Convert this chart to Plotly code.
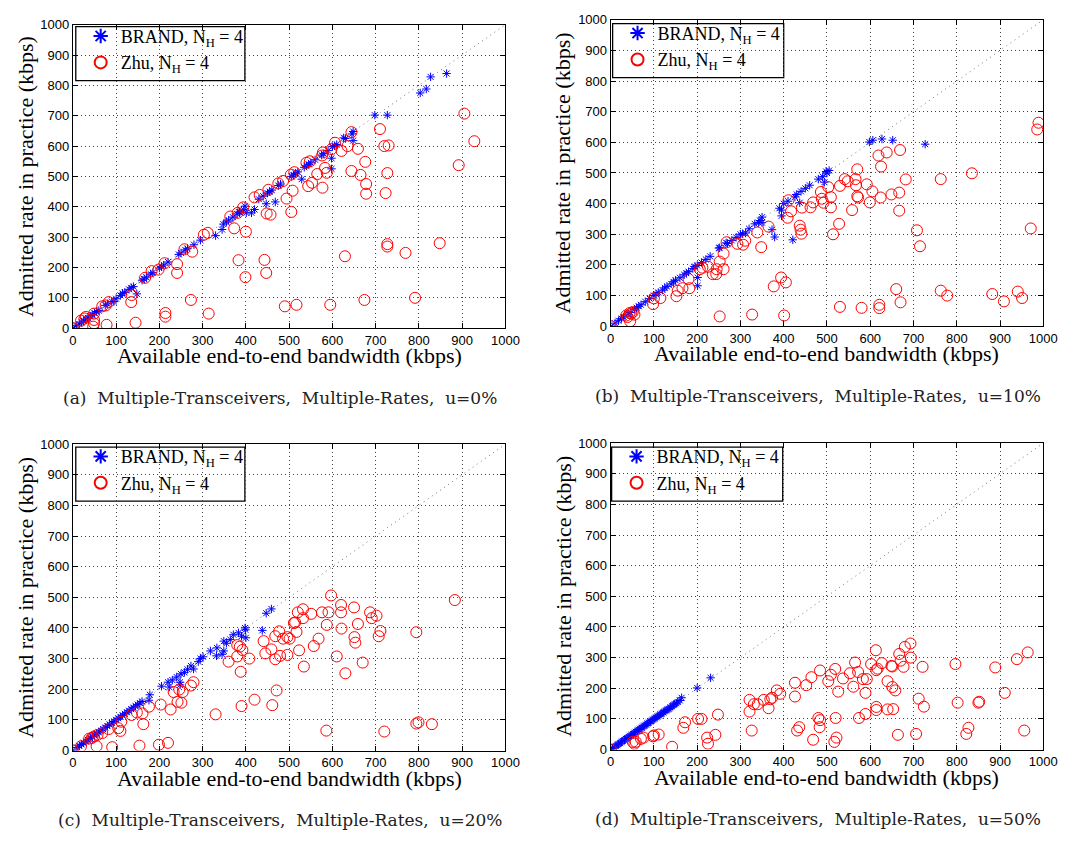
import plotly.graph_objects as go

# ---------------- data ----------------
diag = [0, 1000]
ticks = [0, 100, 200, 300, 400, 500, 600, 700, 800, 900, 1000]

# (a) u = 0%
brand_a_x = [0, 8, 15, 20, 25, 30, 35, 40, 45, 50, 55, 60, 75, 80, 90, 95, 100, 110, 115, 120, 130, 135, 140, 148,
             160, 165, 170, 180, 185, 200, 205, 210, 220, 245, 250, 260, 265, 280, 295, 330, 345, 348, 355, 360, 370,
             380, 385, 395, 398, 386, 401, 420, 413, 430, 440, 447, 450, 455, 460, 468, 475, 480, 505, 510, 515, 520,
             529, 535, 540, 545, 550, 560, 575, 580, 590, 598, 598, 600, 605, 610, 626, 630, 645, 648, 648, 698, 727,
             803, 817, 827, 864]
brand_a_y = [0, 8, 14, 20, 24, 30, 34, 40, 44, 50, 55, 58, 75, 80, 88, 88, 97, 108, 115, 118, 128, 133, 137, 113,
             158, 162, 168, 178, 183, 198, 203, 208, 218, 243, 248, 258, 262, 275, 290, 305, 325, 343, 350, 356, 366,
             376, 382, 390, 402, 383, 380, 391, 380, 425, 435, 410, 445, 450, 455, 416, 470, 475, 500, 505, 510, 515,
             491, 530, 535, 540, 545, 555, 570, 575, 585, 560, 525, 598, 601, 605, 627, 625, 640, 618, 648, 702, 702,
             775, 788, 828, 839]
zhu_a_x = [0, 19, 27, 30, 49, 49, 47, 49, 68, 76, 83, 78, 136, 135, 145, 167, 182, 198, 212, 214, 214, 241, 241, 258,
           276, 273, 303, 312, 314, 364, 373, 381, 394, 400, 383, 399, 420, 432, 443, 447, 448, 457, 452, 475, 486,
           494, 505, 508, 490, 517, 504, 512, 540, 548, 544, 553, 565, 576, 578, 577, 583, 587, 595, 598, 606, 621,
           635, 644, 644, 659, 665, 676, 678, 678, 629, 674, 710, 720, 730, 727, 723, 727, 727, 769, 791, 848, 905,
           928, 892]
zhu_a_y = [0, 25, 32, 37, 48, 27, 5, 16, 72, 75, 86, 11, 109, 86, 18, 166, 188, 193, 214, 50, 38, 211, 182, 260,
           252, 93, 308, 314, 48, 368, 329, 380, 398, 318, 224, 168, 431, 439, 225, 182, 378, 374, 456, 477, 485,
           427, 383, 453, 72, 77, 506, 514, 545, 550, 468, 479, 508, 569, 579, 463, 528, 512, 77, 590, 611, 584,
           600, 646, 518, 591, 505, 548, 475, 443, 237, 93, 656, 600, 602, 511, 445, 277, 269, 248, 100, 280, 707,
           616, 537]

# (b) u = 10%
brand_b_x = [0, 10, 18, 25, 30, 40, 45, 55, 60, 65, 70, 80, 90, 100, 105, 110, 120, 125, 130, 140, 145, 150, 160,
             170, 175, 180, 190, 195, 200, 201, 201, 210, 220, 230, 250, 252, 267, 270, 280, 290, 300, 305, 312, 320,
             333, 342, 345, 350, 350, 373, 379, 390, 395, 395, 400, 410, 421, 426, 430, 437, 440, 450, 460, 480, 490,
             494, 498, 500, 505, 598, 606, 627, 652, 727]
brand_b_y = [0, 10, 18, 25, 30, 40, 45, 55, 60, 65, 70, 80, 90, 100, 105, 110, 118, 125, 130, 138, 145, 150, 158,
             168, 173, 178, 188, 195, 198, 159, 132, 208, 218, 228, 255, 256, 272, 270, 280, 290, 300, 302, 304, 318,
             334, 338, 345, 356, 338, 315, 291, 385, 379, 360, 400, 408, 282, 422, 430, 403, 440, 450, 460, 480, 488,
             470, 505, 500, 508, 601, 607, 611, 607, 594]
zhu_b_x = [0, 36, 44, 47, 55, 45, 39, 51, 98, 100, 115, 152, 155, 166, 180, 182, 206, 212, 225, 236, 244, 245, 252,
           261, 261, 268, 252, 293, 306, 311, 327, 339, 348, 365, 377, 394, 405, 401, 409, 411, 417, 437, 439, 441,
           442, 462, 468, 486, 488, 492, 503, 509, 509, 514, 528, 530, 530, 541, 548, 558, 566, 567, 570, 570, 572,
           580, 592, 599, 605, 619, 625, 624, 621, 621, 638, 649, 667, 667, 669, 660, 670, 682, 708, 715, 763, 835,
           763, 778, 882, 909, 941, 951, 971, 989, 986]
zhu_b_y = [0, 35, 43, 41, 38, 16, 30, 46, 72, 91, 92, 98, 116, 124, 154, 124, 186, 191, 194, 170, 170, 186, 211,
           186, 237, 274, 32, 269, 266, 279, 38, 306, 258, 325, 130, 159, 143, 35, 354, 411, 375, 328, 315, 302,
           387, 388, 404, 438, 416, 403, 454, 421, 388, 300, 334, 458, 63, 480, 473, 379, 480, 460, 512, 424, 420,
           60, 463, 404, 440, 557, 521, 420, 70, 59, 567, 430, 436, 377, 575, 121, 78, 479, 313, 261, 480, 499,
           116, 100, 105, 81, 113, 92, 319, 664, 642]

# (c) u = 20%
brand_c_x = [0, 10, 15, 20, 25, 30, 35, 40, 45, 50, 55, 60, 65, 70, 75, 80, 85, 90, 95, 100, 105, 110, 115, 120, 125,
             130, 135, 140, 145, 150, 155, 160, 176, 178, 205, 220, 223, 230, 240, 248, 248, 250, 258, 265, 273, 279,
             290, 295, 301, 318, 332, 333, 345, 349, 349, 355, 364, 371, 383, 390, 398, 400, 399, 438, 447, 459]
brand_c_y = [0, 10, 15, 20, 25, 30, 35, 40, 45, 50, 55, 60, 65, 70, 75, 80, 85, 90, 95, 100, 105, 110, 115, 120, 125,
             130, 135, 140, 145, 150, 155, 160, 164, 182, 210, 223, 207, 230, 240, 223, 214, 250, 255, 265, 276, 266,
             290, 300, 306, 325, 309, 335, 314, 357, 325, 350, 362, 378, 384, 373, 400, 368, 394, 392, 448, 462]
zhu_c_x = [0, 19, 38, 44, 49, 57, 55, 68, 83, 91, 105, 112, 110, 136, 148, 161, 163, 154, 176, 203, 226, 199, 220,
           242, 251, 233, 246, 254, 273, 279, 330, 360, 380, 380, 386, 392, 408, 388, 390, 420, 441, 445, 459, 468,
           477, 468, 486, 479, 496, 501, 496, 471, 461, 511, 514, 517, 520, 532, 532, 523, 534, 551, 557, 568, 576,
           587, 591, 597, 610, 620, 620, 621, 630, 586, 650, 651, 653, 659, 670, 687, 691, 702, 707, 711, 720, 794,
           794, 799, 830, 883]
zhu_c_y = [0, 14, 39, 41, 46, 51, 14, 57, 70, 11, 73, 94, 64, 116, 124, 121, 86, 16, 143, 150, 134, 19, 25, 159, 156,
           191, 199, 191, 212, 223, 118, 290, 307, 344, 339, 328, 300, 257, 145, 166, 357, 317, 330, 298, 389, 373,
           365, 309, 370, 365, 312, 196, 148, 416, 418, 387, 451, 461, 432, 327, 274, 446, 341, 365, 451, 410, 451,
           506, 307, 475, 451, 398, 252, 65, 467, 370, 352, 413, 287, 451, 432, 440, 373, 390, 62, 386, 88, 92, 86,
           491]

# (d) u = 50%
brand_d_x = [0, 4, 8, 12, 15, 18, 22, 25, 28, 32, 35, 38, 42, 45, 48, 52, 55, 58, 62, 65, 68, 72, 75, 78, 82, 85, 88,
             92, 95, 98, 102, 105, 108, 112, 115, 118, 122, 125, 128, 132, 135, 138, 142, 145, 148, 152, 155, 160,
             164, 200, 231]
brand_d_y = [0, 4, 8, 11, 15, 18, 21, 25, 28, 31, 35, 38, 41, 45, 48, 51, 55, 58, 61, 65, 68, 71, 75, 78, 81, 85, 88,
             91, 95, 98, 101, 105, 108, 111, 115, 118, 121, 125, 128, 131, 133, 138, 141, 145, 148, 151, 155, 160,
             169, 201, 234]
zhu_d_x = [0, 51, 55, 58, 70, 76, 98, 111, 100, 142, 168, 172, 202, 210, 223, 225, 242, 248, 321, 321, 326, 331, 340,
           354, 365, 369, 373, 384, 392, 426, 426, 431, 436, 452, 464, 468, 480, 484, 483, 484, 503, 509, 519, 517,
           522, 520, 526, 537, 553, 561, 565, 572, 574, 583, 592, 589, 589, 602, 613, 614, 617, 614, 614, 627, 640,
           640, 649, 651, 651, 653, 658, 664, 667, 670, 677, 680, 693, 694, 706, 712, 721, 724, 797, 802, 822, 827,
           850, 852, 889, 911, 939, 956, 964]
zhu_d_y = [0, 25, 19, 25, 35, 39, 43, 49, 46, 9, 71, 89, 100, 100, 39, 19, 48, 114, 162, 124, 62, 148, 148, 162, 135,
           164, 169, 193, 182, 218, 173, 62, 73, 210, 236, 32, 103, 96, 73, 258, 223, 244, 263, 25, 39, 103, 189, 232,
           249, 205, 284, 253, 103, 230, 230, 185, 116, 279, 324, 259, 264, 139, 129, 282, 223, 131, 273, 271, 204,
           132, 193, 48, 312, 290, 270, 335, 346, 300, 51, 166, 270, 140, 279, 153, 51, 71, 153, 156, 268, 185, 295,
           62, 317]

panels = [
    ("a", brand_a_x, brand_a_y, zhu_a_x, zhu_a_y, "(a)  Multiple-Transceivers,  Multiple-Rates,  u=0%"),
    ("b", brand_b_x, brand_b_y, zhu_b_x, zhu_b_y, "(b)  Multiple-Transceivers,  Multiple-Rates,  u=10%"),
    ("c", brand_c_x, brand_c_y, zhu_c_x, zhu_c_y, "(c)  Multiple-Transceivers,  Multiple-Rates,  u=20%"),
    ("d", brand_d_x, brand_d_y, zhu_d_x, zhu_d_y, "(d)  Multiple-Transceivers,  Multiple-Rates,  u=50%"),
]

# ---------------- layout geometry (pixels) ----------------
W, H = 1074, 843
boxes = {  # plot area: left, right, top, bottom
    "a": (70, 510, 18, 327),
    "b": (617, 1057, 13, 325),
    "c": (70, 510, 445, 757),
    "d": (617, 1057, 444, 756),
}
legboxes = {  # legend frame: left, top, right, bottom
    "a": (73, 20, 245, 75),
    "b": (619, 17, 793, 72),
    "c": (73, 448, 245, 503),
    "d": (618, 448, 792, 503),
}
serif = "Liberation Serif"
sans = "Liberation Sans"

fig = go.Figure()
annotations = []
shapes = []
layout_axes = {}

for i, (key, bx, by, zx, zy, caption) in enumerate(panels):
    n = "" if i == 0 else str(i + 1)
    xa, ya = "x" + n, "y" + n
    l, r, t, b = boxes[key]
    lg = "legend" + n
    fig.add_trace(go.Scatter(x=diag, y=diag, mode="lines", xaxis=xa, yaxis=ya, showlegend=False,
                             line=dict(color="#777777", width=1, dash="1px,4px"), hoverinfo="skip"))
    fig.add_trace(go.Scatter(x=bx, y=by, mode="markers", xaxis=xa, yaxis=ya, legend=lg,
                             name="BRAND, N<sub>H</sub> = 4",
                             marker=dict(symbol="asterisk-open", size=7, color="#0000ff",
                                         line=dict(color="#0000ff", width=1))))
    fig.add_trace(go.Scatter(x=zx, y=zy, mode="markers", xaxis=xa, yaxis=ya, legend=lg,
                             name="Zhu, N<sub>H</sub> = 4",
                             marker=dict(symbol="circle-open", size=11, color="#ff0000",
                                         line=dict(color="#ff0000", width=1))))
    axcommon = dict(range=[0, 1000], tickvals=ticks, ticks="inside", ticklen=5, tickcolor="black",
                    showline=True, linecolor="black", linewidth=1, mirror="allticks",
                    showgrid=True, gridcolor="#444444", gridwidth=1, griddash="1px,3px",
                    zeroline=False, tickfont=dict(family=sans, size=13, color="black"))
    layout_axes["xaxis" + n] = dict(axcommon, domain=[l / W, r / W], anchor=ya)
    layout_axes["yaxis" + n] = dict(axcommon, domain=[1 - b / H, 1 - t / H], anchor=xa)
    ll, lt, lr, lb = legboxes[key]
    shapes.append(dict(type="rect", xref="paper", yref="paper", layer="between",
                       x0=ll / W, x1=lr / W, y0=1 - lb / H, y1=1 - lt / H,
                       fillcolor="white", line=dict(color="black", width=1.3)))
    layout_axes[lg] = dict(x=(ll + 5) / W, y=1 - (lt - 9) / H, xanchor="left", yanchor="top",
                           bgcolor="rgba(0,0,0,0)", borderwidth=0,
                           font=dict(family=serif, size=18, color="black"),
                           tracegroupgap=0, itemsizing="constant")
    annotations.append(dict(x=(l - 48) / W, y=1 - (t + b) / 2 / H, xref="paper", yref="paper",
                            xanchor="center", yanchor="middle",
                            text="Admitted rate in practice (kbps)", textangle=-90, showarrow=False,
                            font=dict(family=serif, size=22, color="black")))
    annotations.append(dict(x=(l + r) / 2 / W, y=1 - (b + 28) / H, xref="paper", yref="paper",
                            xanchor="center", yanchor="middle",
                            text="Available end-to-end bandwidth (kbps)", showarrow=False,
                            font=dict(family=serif, size=22, color="black")))
    annotations.append(dict(x=(l + r) / 2 / W - 9 / W, y=1 - (b + 71) / H, xref="paper", yref="paper",
                            xanchor="center", yanchor="middle",
                            text=caption, showarrow=False,
                            font=dict(family="DejaVu Serif", size=17, color="#222222")))

fig.update_layout(width=W, height=H, margin=dict(l=0, r=0, t=0, b=0),
                  plot_bgcolor="white", paper_bgcolor="white",
                  annotations=annotations, shapes=shapes, **layout_axes)
fig.write_html("out.html")
